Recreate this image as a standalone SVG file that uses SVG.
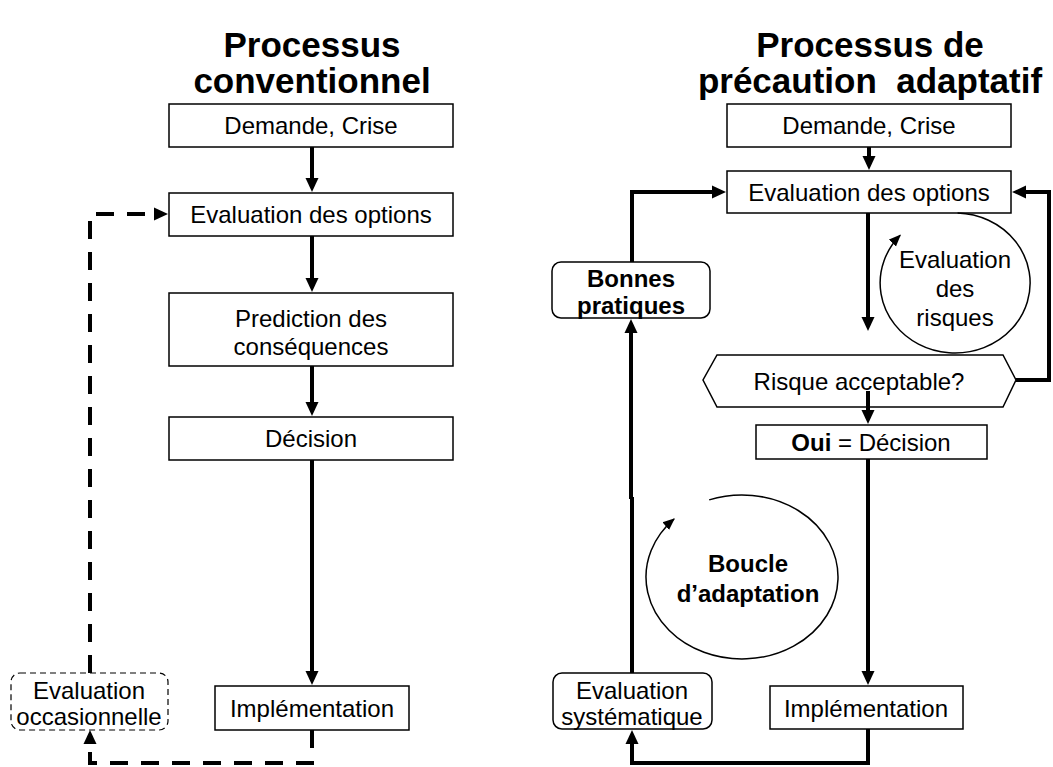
<svg xmlns="http://www.w3.org/2000/svg" width="1053" height="767" viewBox="0 0 1053 767">
  <style>
    text { font-family: "Liberation Sans", Arial, sans-serif; fill: #000; text-anchor: middle; }
    .t { font-size: 24px; }
    .b { font-weight: bold; }
    .title { font-size: 35px; font-weight: bold; }
    .box { fill: #fff; stroke: #000; stroke-width: 1.5; }
    .dbox { fill: #fff; stroke: #000; stroke-width: 1.2; stroke-dasharray: 6 4; }
    .flow { fill: none; stroke: #000; stroke-width: 4; }
    .dash { fill: none; stroke: #000; stroke-width: 4; stroke-dasharray: 18 13; }
    .loop { fill: none; stroke: #000; stroke-width: 1.5; }
  </style>
  <defs>
    <marker id="arrow" viewBox="0 -7 14 14" markerWidth="14" markerHeight="14" markerUnits="userSpaceOnUse" refX="1" refY="0" orient="auto">
      <path d="M0,-6.5 L14,0 L0,6.5 z" fill="#000"/>
    </marker>
    <marker id="arrowThin" viewBox="0 -6 12 12" markerWidth="12" markerHeight="12" markerUnits="userSpaceOnUse" refX="11" refY="0" orient="auto">
      <path d="M0,-5 L12,0 L0,5 z" fill="#000"/>
    </marker>
  </defs>

  <!-- column titles -->
  <text class="title" x="312" y="57">Processus</text>
  <text class="title" x="312" y="93">conventionnel</text>
  <text class="title" x="870" y="57">Processus de</text>
  <text class="title" x="870" y="93" xml:space="preserve">précaution  adaptatif</text>

  <!-- conventional process -->
  <g id="c-demande">
    <rect class="box" x="169" y="104" width="284" height="43"/>
    <text class="t" x="311" y="134">Demande, Crise</text>
  </g>
  <g id="c-options">
    <rect class="box" x="169" y="193" width="284" height="43"/>
    <text class="t" x="311" y="223">Evaluation des options</text>
  </g>
  <g id="c-prediction">
    <rect class="box" x="169" y="293" width="284" height="73"/>
    <text class="t" x="311" y="327">Prediction des</text>
    <text class="t" x="311" y="355">conséquences</text>
  </g>
  <g id="c-decision">
    <rect class="box" x="169" y="417" width="284" height="43"/>
    <text class="t" x="311" y="447">Décision</text>
  </g>
  <g id="c-implementation">
    <rect class="box" x="215" y="686" width="194" height="44"/>
    <text class="t" x="312" y="717">Implémentation</text>
  </g>
  <g id="c-occasionnelle">
    <rect class="dbox" x="11" y="673" width="157" height="57" rx="9"/>
    <text class="t" x="89" y="699">Evaluation</text>
    <text class="t" x="89" y="725">occasionnelle</text>
  </g>

  <!-- adaptive precautionary process -->
  <g id="a-demande">
    <rect class="box" x="727" y="104" width="284" height="43"/>
    <text class="t" x="869" y="134">Demande, Crise</text>
  </g>
  <g id="a-options">
    <rect class="box" x="727" y="171" width="284" height="42"/>
    <text class="t" x="869" y="201">Evaluation des options</text>
  </g>
  <g id="a-risques">
    <path class="loop" d="M957.6,213 A75,70 0 1 1 900.2,235.3" marker-end="url(#arrowThin)"/>
    <text class="t" x="955" y="268">Evaluation</text>
    <text class="t" x="955" y="297">des</text>
    <text class="t" x="955" y="326">risques</text>
  </g>
  <g id="a-acceptable">
    <polygon class="box" points="717,355 1003,355 1016,380 1003,407 717,407 703,380"/>
    <text class="t" x="859" y="390">Risque acceptable?</text>
  </g>
  <g id="a-decision">
    <rect class="box" x="756" y="425" width="231" height="34"/>
    <text class="t" x="871" y="451"><tspan class="b">Oui</tspan> = Décision</text>
  </g>
  <g id="a-implementation">
    <rect class="box" x="770" y="686" width="193" height="43"/>
    <text class="t" x="866" y="717">Implémentation</text>
  </g>
  <g id="a-systematique">
    <rect class="box" x="553" y="673" width="159" height="56" rx="9"/>
    <text class="t" x="632" y="699">Evaluation</text>
    <text class="t" x="632" y="725">systématique</text>
  </g>
  <g id="a-pratiques">
    <rect class="box" x="552" y="262" width="158" height="56" rx="9"/>
    <text class="t b" x="631" y="287">Bonnes</text>
    <text class="t b" x="631" y="314">pratiques</text>
  </g>
  <g id="a-boucle">
    <path class="loop" d="M709.2,499.9 A96,82 0 1 1 674.1,519" marker-end="url(#arrowThin)"/>
    <text class="t b" x="748" y="572">Boucle</text>
    <text class="t b" x="748" y="602">d’adaptation</text>
  </g>

  <!-- connectors -->
  <g id="connectors">
    <path class="flow" d="M312,147 V179" marker-end="url(#arrow)"/>
    <path class="flow" d="M312,236 V279" marker-end="url(#arrow)"/>
    <path class="flow" d="M312,366 V403" marker-end="url(#arrow)"/>
    <path class="flow" d="M312,460 V672" marker-end="url(#arrow)"/>
    <path class="dash" d="M312,730 V763 H90 V743" marker-end="url(#arrow)"/>
    <path class="dash" d="M90,673 V214 H155" marker-end="url(#arrow)"/>

    <path class="flow" d="M869,147 V157" marker-end="url(#arrow)"/>
    <path class="flow" d="M868,213 V318" marker-end="url(#arrow)"/>
    <path class="flow" d="M1016,380 H1049 V192 H1025" marker-end="url(#arrow)"/>
    <path class="flow" d="M868,391 V411" marker-end="url(#arrow)"/>
    <path class="flow" d="M868,459 V672" marker-end="url(#arrow)"/>
    <path class="flow" d="M868,729 V763 H632 V743" marker-end="url(#arrow)"/>
    <path class="flow" d="M632,673 V497"/>
    <path class="flow" d="M631,499 V332" marker-end="url(#arrow)"/>
    <path class="flow" d="M632,262 V192 H713" marker-end="url(#arrow)"/>
  </g>
</svg>
